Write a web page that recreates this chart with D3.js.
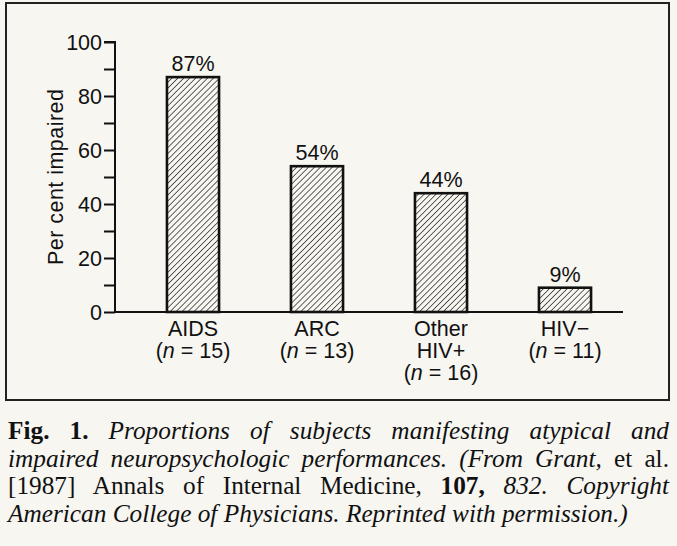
<!DOCTYPE html>
<html><head><meta charset="utf-8">
<script src="https://cdn.jsdelivr.net/npm/d3@7"></script>
<style>
html,body{margin:0;padding:0;background:#f7f6f1;}
#wrap{position:relative;width:677px;height:546px;overflow:hidden;}
svg{position:absolute;left:0;top:0;}
#cap{position:absolute;left:8px;top:417px;width:661px;font-family:"Liberation Serif","DejaVu Serif",serif;font-size:25.3px;color:#111;line-height:27.5px;}
#cap div{text-align:justify;text-align-last:justify;white-space:nowrap;}
#cap div.last{text-align-last:left;}
#cap i{font-style:italic;}
</style></head>
<body><div id="wrap"><svg id="chart" width="677" height="546"></svg>
<div id="cap"></div></div>
<script>
const categories = ["AIDS","ARC","Other HIV+","HIV\u2212"];
const labelLines = [["AIDS","(n = 15)"],["ARC","(n = 13)"],["Other","HIV+","(n = 16)"],["HIV\u2212","(n = 11)"]];
const values = [87, 54, 44, 9];
const valueLabels = ["87%","54%","44%","9%"];
const yTicks = [0,20,40,60,80,100];
const yMinorTicks = [10,30,50,70,90];
const yTitle = "Per cent impaired";

const svg = d3.select("#chart");
const ink = "#111";
const sans = "'Liberation Sans', Arial, sans-serif";
const fs = 21.5;

// frame
svg.append("rect").attr("x",6).attr("y",3).attr("width",663).attr("height",397)
  .attr("fill","none").attr("stroke","#222").attr("stroke-width",2);

// hatch
const defs = svg.append("defs");
const pat = defs.append("pattern").attr("id","hatch").attr("patternUnits","userSpaceOnUse")
  .attr("width",4.2).attr("height",4.2).attr("patternTransform","rotate(45)");
pat.append("rect").attr("width",4.2).attr("height",4.2).attr("fill","#f7f6f1");
pat.append("line").attr("x1",0).attr("y1",0).attr("x2",0).attr("y2",4.2)
  .attr("stroke",ink).attr("stroke-width",1.3);

const axisX = 115, baseRight = 623;
const y = d3.scaleLinear().domain([0,100]).range([312,42]);
const x = d3.scaleBand().domain(categories).range([131,627]).paddingInner(0.58).paddingOuter(0.29);

// baseline
svg.append("line").attr("x1",axisX).attr("x2",baseRight).attr("y1",y(0)).attr("y2",y(0))
  .attr("stroke",ink).attr("stroke-width",2);

// y axis
const yAxis = d3.axisLeft(y).tickValues(yTicks).tickSize(11).tickPadding(2).tickFormat(d3.format("d"));
const ga = svg.append("g").attr("transform",`translate(${axisX},0)`).call(yAxis);
ga.select(".domain").attr("stroke",ink).attr("stroke-width",2).attr("d",`M-11,${y(100)}H0V${y(0)}`);
ga.selectAll(".tick line").attr("stroke",ink).attr("stroke-width",2);
ga.selectAll(".tick text").attr("font-family",sans).attr("font-size",fs).attr("fill",ink).attr("dy","0.35em");
const gm = svg.append("g").attr("transform",`translate(${axisX},0)`)
  .call(d3.axisLeft(y).tickValues(yMinorTicks).tickSize(11).tickFormat(""));
gm.select(".domain").remove();
gm.selectAll(".tick line").attr("stroke",ink).attr("stroke-width",2);

svg.append("text").attr("transform",`translate(63,${(y(0)+y(100))/2}) rotate(-90)`)
  .attr("text-anchor","middle").attr("font-family",sans).attr("font-size",fs).attr("fill",ink)
  .attr("textLength",176).attr("lengthAdjust","spacing").text(yTitle);

// bars
svg.selectAll("rect.bar").data(values).join("rect").attr("class","bar")
  .attr("x",(d,i)=>x(categories[i])).attr("width",x.bandwidth())
  .attr("y",d=>y(d)).attr("height",d=>y(0)-y(d))
  .attr("fill","url(#hatch)").attr("stroke",ink).attr("stroke-width",2.6);

svg.selectAll("text.val").data(values).join("text").attr("class","val")
  .attr("x",(d,i)=>x(categories[i])+x.bandwidth()/2).attr("y",d=>y(d)-6)
  .attr("text-anchor","middle").attr("font-family",sans).attr("font-size",fs).attr("fill",ink)
  .text((d,i)=>valueLabels[i]);

// category labels
labelLines.forEach((lines,i)=>{
  const cx = x(categories[i])+x.bandwidth()/2;
  lines.forEach((ln,j)=>{
    const t = svg.append("text").attr("x",cx).attr("y",y(0)+24+j*22).attr("text-anchor","middle")
      .attr("font-family",sans).attr("font-size",fs).attr("fill",ink);
    const m = ln.match(/^\((n)( = .*)\)$/);
    if(m){
      t.append("tspan").text("(");
      t.append("tspan").attr("font-style","italic").text("n");
      t.append("tspan").text(m[2]+")");
    } else t.text(ln);
  });
});

// caption
const capLines = [
  '<b>Fig. 1.</b> <i>Proportions of subjects manifesting atypical and</i>',
  '<i>impaired neuropsychologic performances. (From Grant,</i> et al.',
  '[1987] Annals of Internal Medicine, <b>107,</b> <i>832. Copyright</i>',
  '<i>American College of Physicians. Reprinted with permission.)</i>'
];
d3.select("#cap").selectAll("div").data(capLines).join("div")
  .attr("class",(d,i)=>i===capLines.length-1?"last":null).html(d=>d);
</script></body></html>
